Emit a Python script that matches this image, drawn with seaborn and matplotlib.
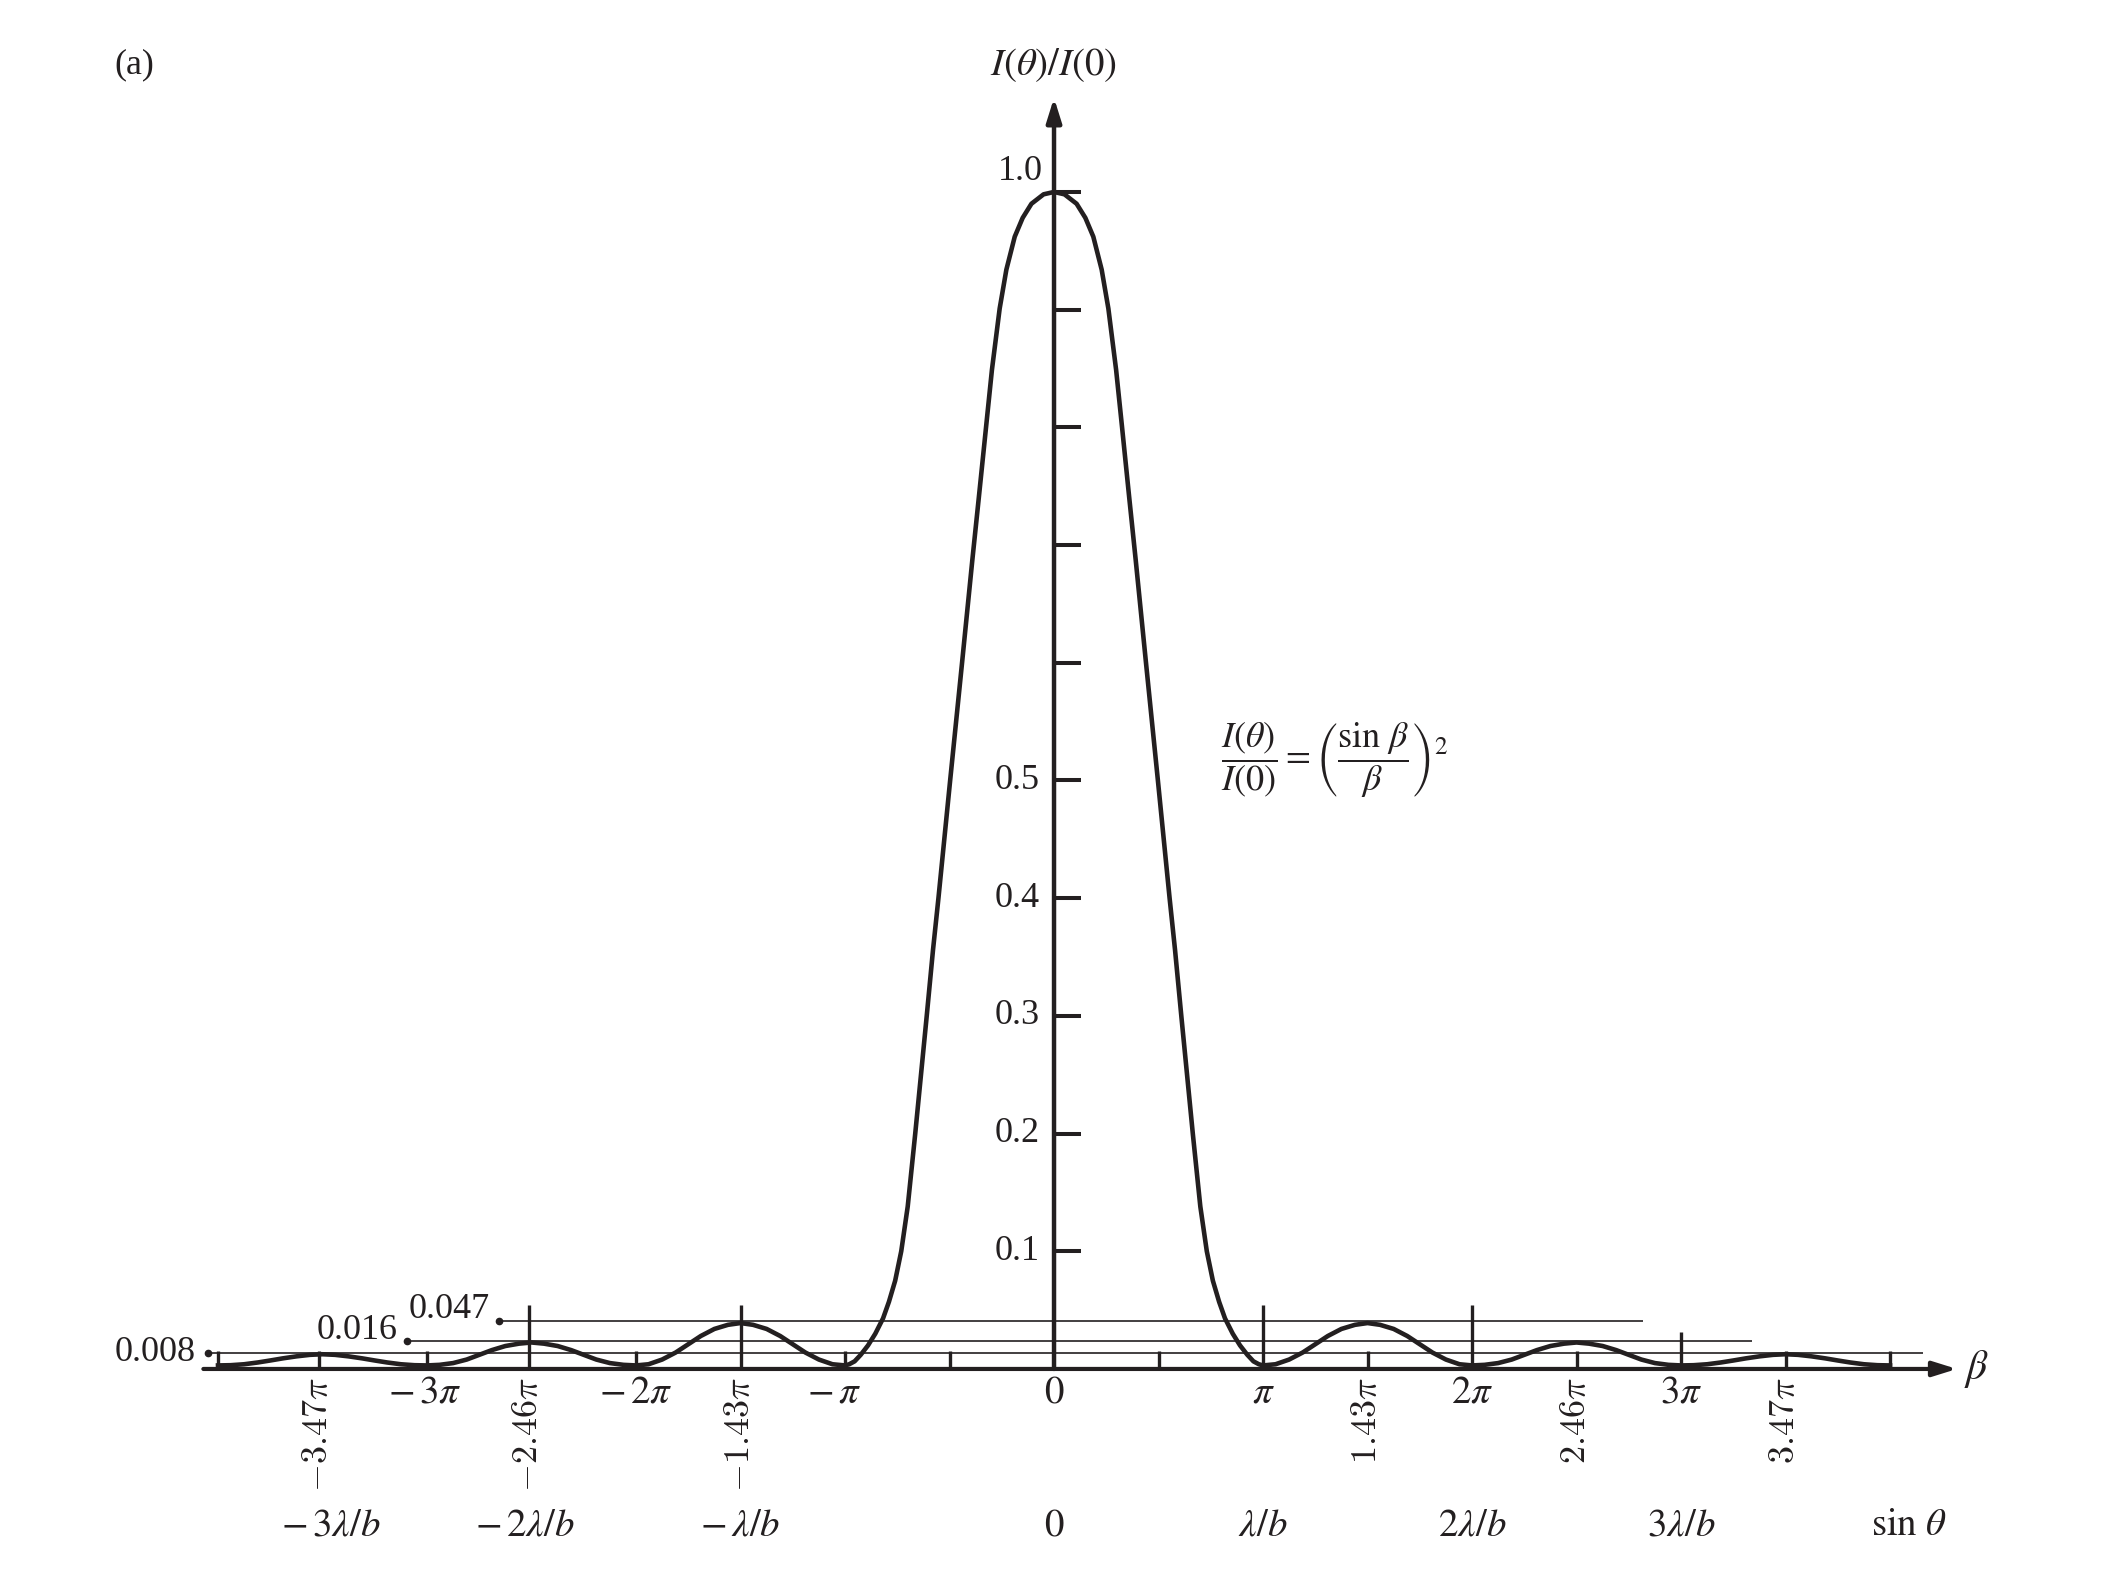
import matplotlib
matplotlib.use("Agg")
import matplotlib.pyplot as plt
import seaborn as sns
import numpy as np
import pandas as pd

# 曲线数据 (β 以 π 为单位, 从图上读取, 右半边; 左半边对称)
beta_half = [0.0, 0.05, 0.108, 0.15, 0.188, 0.228, 0.26, 0.297, 0.325, 0.36, 0.391,
             0.44, 0.497, 0.553, 0.579, 0.609, 0.664, 0.70, 0.731, 0.76, 0.79, 0.818,
             0.855, 0.89, 0.925, 0.954, 0.98, 1.0,
             1.06, 1.125, 1.19, 1.25, 1.31, 1.375, 1.44, 1.5, 1.56, 1.625, 1.69, 1.75,
             1.81, 1.875, 1.94, 2.0,
             2.06, 2.125, 2.19, 2.25, 2.31, 2.375, 2.44, 2.5, 2.56, 2.625, 2.69, 2.75,
             2.81, 2.875, 2.94, 3.0,
             3.06, 3.125, 3.19, 3.25, 3.31, 3.375, 3.44, 3.5, 3.56, 3.625, 3.69, 3.75,
             3.81, 3.875, 3.94, 4.0]
inten_half = [1.0, 0.998, 0.99, 0.978, 0.962, 0.934, 0.901, 0.849, 0.801, 0.74, 0.687,
              0.6, 0.5, 0.4, 0.356, 0.3, 0.2, 0.138, 0.1, 0.075, 0.057, 0.043,
              0.03, 0.02, 0.012, 0.0065, 0.004, 0.003,
              0.004, 0.008, 0.014, 0.021, 0.028, 0.034, 0.0375, 0.039, 0.0375, 0.034, 0.028, 0.021,
              0.014, 0.008, 0.004, 0.003,
              0.0035, 0.005, 0.008, 0.012, 0.016, 0.0195, 0.0215, 0.0225, 0.0215, 0.0195, 0.016, 0.012,
              0.008, 0.005, 0.0035, 0.003,
              0.0032, 0.004, 0.0055, 0.0072, 0.009, 0.0107, 0.012, 0.0125, 0.012, 0.0107, 0.009, 0.0072,
              0.0055, 0.004, 0.0032, 0.003]

# 次极大的标注线
peak_labels = ["0.047", "0.016", "0.008"]
peak_lines = [0.041, 0.024, 0.0136]
line_left = [-2.655, -3.096, -4.05]
line_right = [2.82, 3.34, 4.16]

# 刻度
y_ticks = [0.1, 0.2, 0.3, 0.4, 0.5, 0.6, 0.7, 0.8, 0.9, 1.0]
y_tick_labels = ["0.1", "0.2", "0.3", "0.4", "0.5", "", "", "", "", "1.0"]
small_ticks = [-4, -3.517, -3, -2, -1, -0.5, 0.5, 1.5, 2.5, 3.5, 4]
tall_ticks = [-2.512, -1.5, 1, 2]
mid_ticks = [3]
beta_pos = [-3.01, -2.0, -1.05, 0, 1, 2, 3]
beta_labels = [r"$-\,3\pi$", r"$-\,2\pi$", r"$-\,\pi$", r"$0$", r"$\pi$", r"$2\pi$", r"$3\pi$"]
max_pos = [-3.517, -2.512, -1.5, 1.5, 2.5, 3.5]
max_labels = [r"$-3.47\pi$", r"$-2.46\pi$", r"$-1.43\pi$", r"$1.43\pi$", r"$2.46\pi$", r"$3.47\pi$"]
sin_pos = [-3.46, -2.53, -1.50, 0, 1.0, 2.0, 3.0, 4.09]
sin_labels = [r"$-\,3\lambda/b$", r"$-\,2\lambda/b$", r"$-\,\lambda/b$", r"$0$", r"$\lambda/b$",
              r"$2\lambda/b$", r"$3\lambda/b$", r"$\sin\,\theta$"]

ink = "#231f20"
plt.rcParams["font.family"] = ["Liberation Serif", "DejaVu Serif"]
plt.rcParams["mathtext.fontset"] = "stix"
fs = 26
mfs = 28

fig = plt.figure(figsize=(21.21, 15.88), dpi=100)
ax = fig.add_axes([0, 0, 1, 1])
ax.axis("off")
ax.set_xlim(-5.043, 5.105)
ax.set_ylim(-0.1861, 1.1631)

# 曲线
bh = np.array(beta_half)
ih = np.array(inten_half)
df = pd.DataFrame({"beta": np.concatenate([-bh[::-1], bh[1:]]),
                   "I": np.concatenate([ih[::-1], ih[1:]])})
sns.lineplot(data=df, x="beta", y="I", ax=ax, color=ink, lw=3.3, estimator=None, sort=False, zorder=5)

# 坐标轴
ax.annotate("", xy=(4.32, 0), xytext=(-4.07, 0),
            arrowprops=dict(arrowstyle="-|>,head_length=0.8,head_width=0.25", lw=3.0,
                            color=ink, mutation_scale=18, shrinkA=0, shrinkB=0))
ax.annotate("", xy=(0, 1.08), xytext=(0, 0),
            arrowprops=dict(arrowstyle="-|>,head_length=0.8,head_width=0.25", lw=3.2,
                            color=ink, mutation_scale=18, shrinkA=0, shrinkB=0))

# y 刻度
ax.hlines(y_ticks, 0, 0.13, color=ink, lw=2.9)
for v, t in zip(y_ticks, y_tick_labels):
    if t == "1.0":
        ax.text(-0.054, 1.017, t, ha="right", va="center", fontsize=fs, color=ink)
    elif t:
        ax.text(-0.067, v, t, ha="right", va="center", fontsize=fs, color=ink)

# x 刻度
ax.vlines(small_ticks, 0, 0.0156, color=ink, lw=2.4)
ax.vlines(tall_ticks, 0, 0.0547, color=ink, lw=2.4)
ax.vlines(mid_ticks, 0, 0.031, color=ink, lw=2.4)

# 标注线
ax.hlines(peak_lines, line_left, line_right, color=ink, lw=1.2)
ax.plot(line_left, peak_lines, "o", color=ink, ms=4.5)
label_x = [-2.699, -3.139, -4.105]
label_y = [0.0505, 0.033, 0.0138]
for lx, ly, t in zip(label_x, label_y, peak_labels):
    ax.text(lx, ly, t, ha="right", va="center", fontsize=fs, color=ink)

# 标签
for p, t in zip(beta_pos, beta_labels):
    ax.text(p, -0.0204, t, ha="center", va="center", fontsize=mfs, color=ink)
for p, t in zip(max_pos, max_labels):
    ax.text(p, -0.007, t, ha="center", va="top", rotation=90, fontsize=fs, color=ink,
            math_fontfamily="cm")
for p, t in zip(sin_pos, sin_labels):
    ax.text(p, -0.1334, t, ha="center", va="center", fontsize=mfs, color=ink)

ax.text(4.416, 0.0, r"$\beta$", ha="center", va="center", fontsize=mfs + 2, color=ink)
ax.text(0.0, 1.108, r"$I(\theta)/I(\mathit{0})$", ha="center", va="center", fontsize=mfs, color=ink)
ax.text(-4.402, 1.108, "(a)", ha="center", va="center", fontsize=fs, color=ink)
ax.text(0.799, 0.517, r"$\dfrac{I(\theta)}{I(\mathit{0})}=\left(\dfrac{\sin\,\beta}{\beta}\right)^2$",
        ha="left", va="center", fontsize=fs, color=ink)

fig.savefig("out.png", dpi=100)
